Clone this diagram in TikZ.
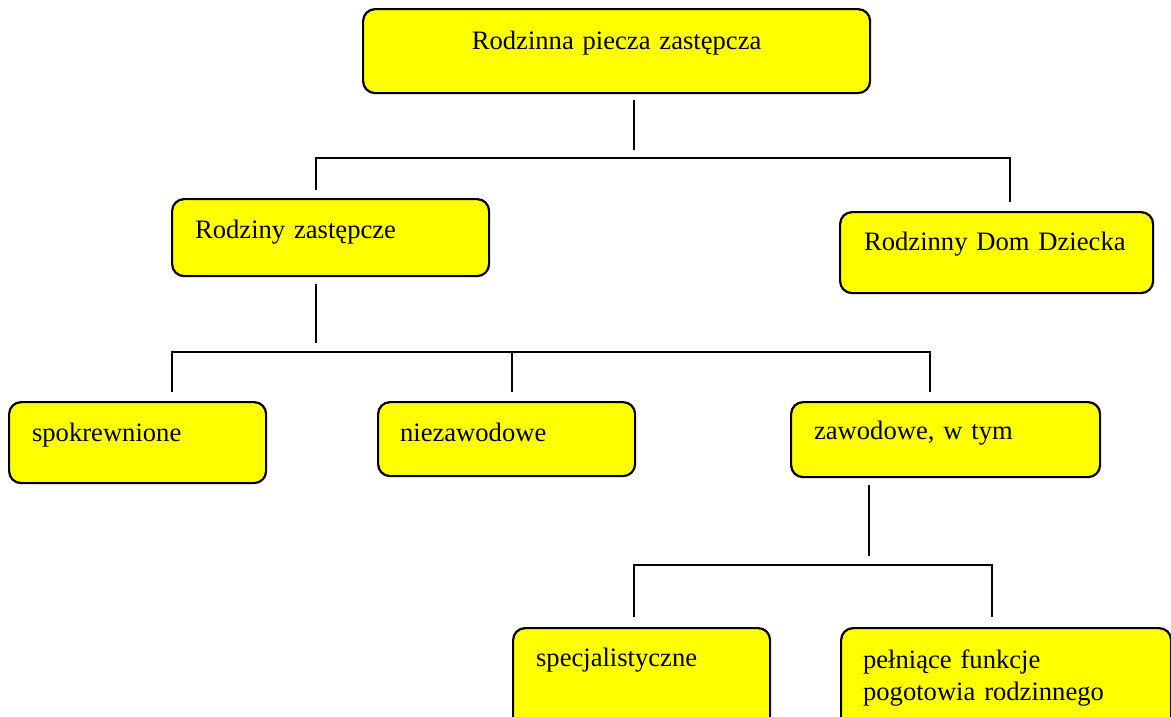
\documentclass[tikz,border=0pt]{standalone}
\usepackage{fontspec}
\setmainfont{Liberation Serif}
\definecolor{boxyellow}{RGB}{255,255,0}
\begin{document}
\begin{tikzpicture}[x=1pt,y=-1pt,
  box/.style={draw=black, line width=2.2pt, rounded corners=12pt, fill=boxyellow,
    inner ysep=0pt, align=left, anchor=north west,
    font=\fontsize{26.6pt}{32.5pt}\selectfont},
  conn/.style={draw=black, line width=1.6pt}]
\useasboundingbox (0,0) rectangle (1171,716);
\fill[white] (0,0) rectangle (1171,716);
\clip (0,0) rectangle (1171,716);

% boxes
\node[box, align=center, inner xsep=10pt, text width=487pt, text height=40pt, text depth=44pt] (A) at (362,8) {Rodzinna piecza zastępcza};
\node[box, inner xsep=23pt, text width=271pt, text height=39pt, text depth=38pt] (B) at (171,198) {Rodziny zastępcze};
\node[box, inner xsep=24pt, text width=265pt, text height=38pt, text depth=43pt] (C) at (839,211) {Rodzinny Dom Dziecka};
\node[box, inner xsep=23pt, text width=211pt, text height=39pt, text depth=42pt] (D) at (8,401) {spokrewnione};
\node[box, inner xsep=22pt, text width=213pt, text height=39pt, text depth=35pt] (E) at (377,401) {niezawodowe};
\node[box, inner xsep=23pt, text width=263pt, text height=37pt, text depth=38pt] (F) at (790,401) {zawodowe, w tym};
\node[box, inner xsep=23pt, text width=211pt, text height=38pt, text depth=75pt] (G) at (512,627) {specjalistyczne};
\node[box, inner xsep=22pt, text width=286pt, text height=40pt, text depth=73pt] (H) at (840,627) {pełniące funkcje\\pogotowia rodzinnego};

% connector points
\coordinate (a1) at (634,100);
\coordinate (a2) at (634,150);
\coordinate (bl) at (316,158);
\coordinate (br) at (1010,158);
\coordinate (bt) at (316,190);
\coordinate (ct) at (1010,202);

\coordinate (b1) at (316,284);
\coordinate (b2) at (316,343);
\coordinate (dl) at (172,352);
\coordinate (dr) at (930,352);
\coordinate (dt) at (172,392);
\coordinate (em) at (512,352);
\coordinate (et) at (512,392);
\coordinate (ft) at (930,392);

\coordinate (f1) at (869,485);
\coordinate (f2) at (869,556);
\coordinate (gl) at (634,565);
\coordinate (hr) at (992,565);
\coordinate (gt) at (634,617);
\coordinate (ht) at (992,617);

\draw[conn] (a1) -- (a2);
\draw[conn] (bt) -- (bl) -- (br) -- (ct);
\draw[conn] (b1) -- (b2);
\draw[conn] (dt) -- (dl) -- (dr) -- (ft);
\draw[conn] (em) -- (et);
\draw[conn] (f1) -- (f2);
\draw[conn] (gt) -- (gl) -- (hr) -- (ht);
\end{tikzpicture}
\end{document}
